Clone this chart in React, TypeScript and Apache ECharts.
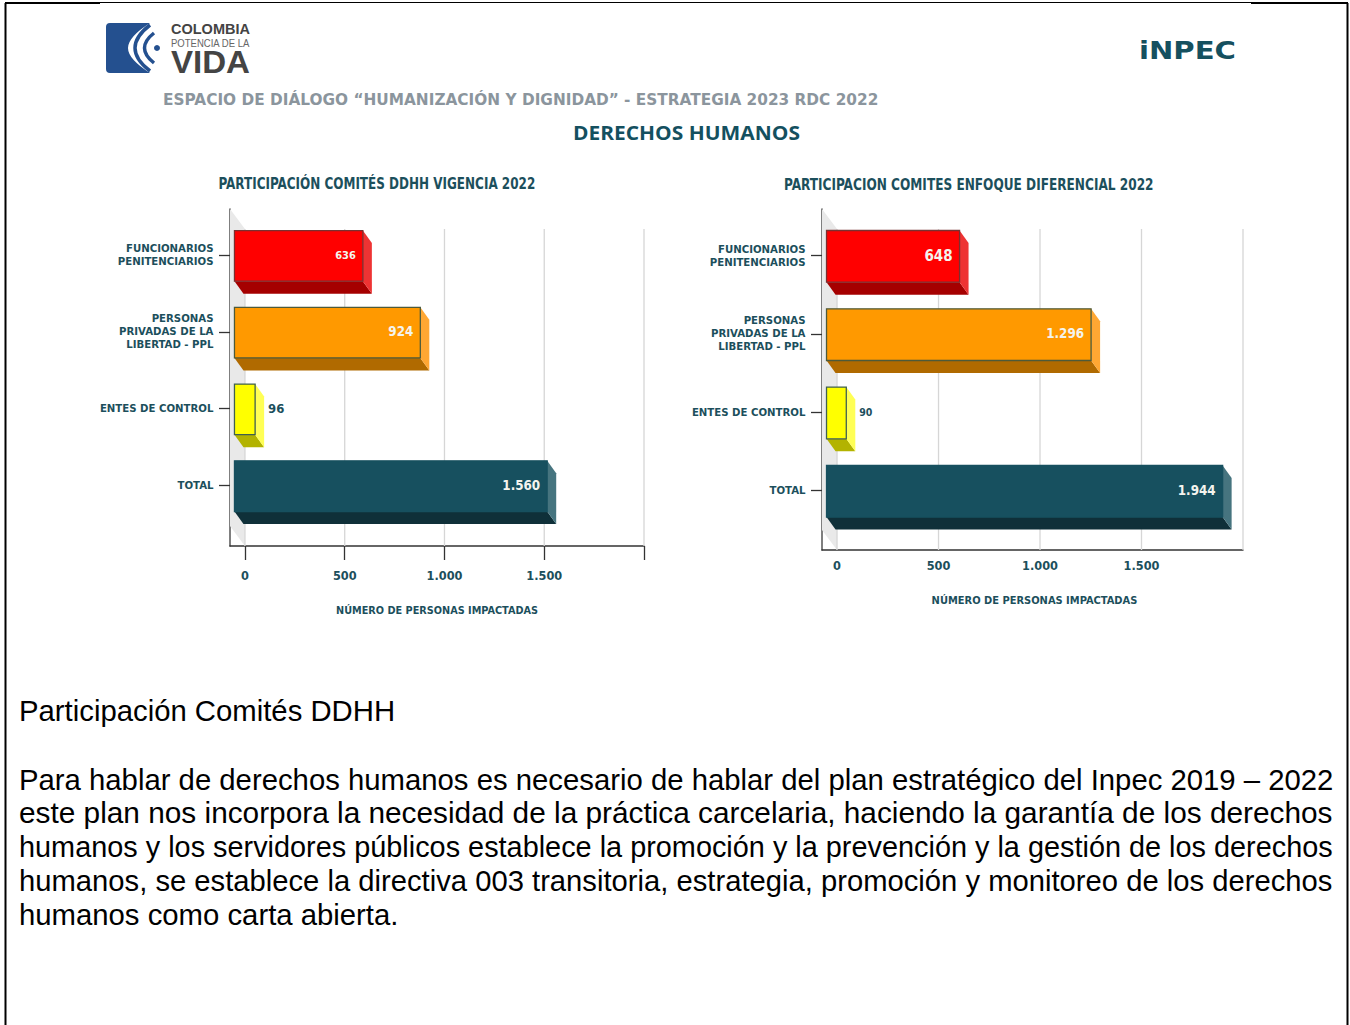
import React, { useEffect, useRef } from "react";
import * as echarts from "echarts";

const CATEGORIES = ["FUNCIONARIOS\nPENITENCIARIOS", "PERSONAS\nPRIVADAS DE LA\nLIBERTAD - PPL", "ENTES DE CONTROL", "TOTAL"];
const VALUES_2022 = [636, 924, 96, 1560];
const VALUES_ENFOQUE = [648, 1296, 90, 1944];
const CATEGORY_INDEXES = [0, 1, 2, 3];
const X_TICKS = [0, 500, 1000, 1500, 2000];
const X_LABELS = [0, 500, 1000, 1500];
const TITLE_LEFT = "PARTICIPACIÓN COMITÉS DDHH VIGENCIA 2022";
const TITLE_RIGHT = "PARTICIPACION COMITES ENFOQUE DIFERENCIAL 2022";
const AXIS_NAME = "NÚMERO DE PERSONAS IMPACTADAS";
const HEADER = "ESPACIO DE DIÁLOGO “HUMANIZACIÓN Y DIGNIDAD” - ESTRATEGIA 2023 RDC 2022";
const SECTION = "DERECHOS HUMANOS";
const BODY_TITLE = "Participación Comités DDHH";
const BODY_LINES = [
  "Para hablar de derechos humanos es necesario de hablar del plan estratégico del Inpec 2019 – 2022",
  "este plan nos incorpora la necesidad de la práctica carcelaria, haciendo la garantía de los derechos",
  "humanos y los servidores públicos establece la promoción y la prevención y la gestión de los derechos",
  "humanos, se establece la directiva 003 transitoria, estrategia, promoción y monitoreo de los derechos",
  "humanos como carta abierta.",
];

const TEAL = "#1c4f5c";
const COND = "'DejaVu Sans Condensed', 'DejaVu Sans', sans-serif";
const FACES = ["#ff0000", "#ff9900", "#ffff00", "#17505f"];
const SIDES = ["#ee3333", "#ffa733", "#ffff55", "#46747f"];
const BOTTOMS = ["#a50000", "#b06a00", "#b3b300", "#0f3039"];
const EDGES = ["#7a3030", "#4d5a3a", "#3f6050", "#17505f"];

const fmt = (v: number) => String(v).replace(/\B(?=(\d{3})+$)/g, ".");

const measure = (text: string, font: string) => {
  const ctx = document.createElement("canvas").getContext("2d")!;
  ctx.font = font;
  return ctx.measureText(text).width;
};

const fitText = (text: string, font: string, x: number, y: number, width: number, fill: string, extra: any = {}) => ({
  type: "text",
  x,
  y,
  scaleX: width / measure(text, font),
  silent: true,
  style: { text, font, fill, align: "left", verticalAlign: "middle", ...extra },
});

const barRenderer = (labelSizes: number[], outsideLabelGap: number) => (params: any, api: any) => {
  const value = api.value(0);
  const idx = api.value(1);
  const back = api.coord([value, idx]);
  const zero = api.coord([0, idx]);
  const h = api.size([0, 1])[1] * 0.66;
  const dx = 9;
  const dy = 12.5;
  const fl = zero[0] - 10.5;
  const fr = back[0] - dx;
  const top = back[1] + 0.8 - h / 2;
  const bot = back[1] + 0.8 + h / 2;
  const isOutside = fr - fl < 60;
  const size = labelSizes[idx];
  return {
    type: "group",
    children: [
      {
        type: "polygon",
        shape: { points: [[fl, bot], [fr, bot], [fr + dx, bot + dy], [fl + dx, bot + dy]] },
        style: { fill: BOTTOMS[idx] },
      },
      {
        type: "polygon",
        shape: { points: [[fr, top], [fr + dx, top + dy], [fr + dx, bot + dy], [fr, bot]] },
        style: { fill: SIDES[idx] },
      },
      {
        type: "rect",
        shape: { x: fl, y: top, width: fr - fl, height: h },
        style: { fill: FACES[idx], stroke: EDGES[idx], lineWidth: 1.3 },
      },
      {
        type: "text",
        style: {
          x: isOutside ? back[0] + outsideLabelGap : fr - 7,
          y: back[1],
          text: fmt(value),
          align: isOutside ? "left" : "right",
          verticalAlign: "middle",
          fill: isOutside ? TEAL : "#f4f4ee",
          font: `bold ${size}px ${COND}`,
        },
      },
    ],
  };
};

const wallRenderer = (params: any, api: any) => {
  const cs = params.coordSys;
  const x0 = api.coord([0, 0])[0];
  const dy = 20;
  const bottom = cs.y + cs.height;
  const xv = api.coord([api.value(0), 0])[0];
  const children: any[] = [
    { type: "line", shape: { x1: xv, y1: cs.y + dy, x2: xv, y2: bottom }, style: { stroke: "#d6d6d6", lineWidth: 1.3 } },
  ];
  if (api.value(0) === 0) {
    children.unshift({
      type: "polygon",
      shape: { points: [[cs.x, cs.y], [x0, cs.y + dy], [x0, bottom], [cs.x, bottom - dy]] },
      style: { fill: "#e9e9e9" },
    });
  }
  return { type: "group", children };
};

const makeAxes = (gridIndex: number, xMin: number, yMin: number, yMax: number, tickLen: number, labelMargin: number, nameGap: number, nameSize: number, namePadLeft: number) => ({
  x: {
    type: "value",
    gridIndex,
    min: xMin,
    max: 2000,
    name: AXIS_NAME,
    nameLocation: "middle",
    nameGap,
    nameTextStyle: { color: TEAL, fontFamily: COND, fontWeight: "bold", fontSize: nameSize, padding: [0, 0, 0, namePadLeft] },
    axisLine: { show: true, onZero: false, lineStyle: { color: "#333", width: 1.5 } },
    axisTick: { show: tickLen > 0, length: tickLen, customValues: X_TICKS, lineStyle: { color: "#333", width: 1.3 } },
    axisLabel: {
      customValues: X_LABELS,
      margin: labelMargin,
      formatter: (v: number) => fmt(v),
      color: TEAL,
      fontFamily: COND,
      fontWeight: "bold",
      fontSize: 12.6,
    },
    splitLine: { show: false },
  },
  y: {
    type: "value",
    gridIndex,
    inverse: true,
    min: yMin,
    max: yMax,
    axisLine: { show: true, onZero: false, lineStyle: { color: "#555", width: 1.5 } },
    axisTick: { show: true, length: 11, customValues: CATEGORY_INDEXES, lineStyle: { color: "#333", width: 1.3 } },
    axisLabel: {
      customValues: CATEGORY_INDEXES,
      margin: 16.5,
      formatter: (v: number) => CATEGORIES[v] ?? "",
      color: TEAL,
      fontFamily: COND,
      fontWeight: "bold",
      fontSize: 11.3,
      lineHeight: 13,
      align: "right",
    },
    splitLine: { show: false },
  },
});

export default function App() {
  const ref = useRef<HTMLDivElement>(null);
  useEffect(() => {
    const chart = echarts.init(ref.current!, undefined, { renderer: "svg" });
    const a = makeAxes(0, -75, -0.6, 3.79, 14, 23, 59, 10.8, 0);
    const b = makeAxes(1, -74, -0.594, 3.76, 0, 9, 45, 11, 4);
    const bodyFont = "29.3px 'Liberation Sans', Arial, sans-serif";
    const titleFont = `bold 15px ${COND}`;
    const frame = (x1: number, y1: number, x2: number, y2: number, w: number) => ({
      type: "line",
      silent: true,
      shape: { x1, y1, x2, y2 },
      style: { stroke: "#000", lineWidth: w },
    });
    const arc = (x1: number, y1: number, cx: number, cy: number, x2: number, y2: number, w: number) => ({
      type: "bezierCurve",
      silent: true,
      shape: { x1, y1, cpx1: cx, cpy1: cy, x2, y2 },
      style: { stroke: "#24508f", lineWidth: w, fill: "none" },
    });
    echarts.graphic.registerShape(
      "logoBody",
      echarts.graphic.extendPath("M110 23 L150 23 Q128 37 128 48 Q128 59 150 73 L110 73 Q106 73 106 69 L106 27 Q106 23 110 23 Z", {})
    );
    chart.setOption({
      animation: false,
      backgroundColor: "#fff",
      grid: [
        { left: 230, top: 209, width: 414, height: 337 },
        { left: 822, top: 209, width: 421, height: 341 },
      ],
      xAxis: [a.x, b.x],
      yAxis: [a.y, b.y],
      series: [
        { type: "custom", xAxisIndex: 0, yAxisIndex: 0, z: 1, silent: true, clip: false, renderItem: wallRenderer, encode: { x: 0 }, data: X_TICKS.map((v) => [v]) },
        { type: "custom", xAxisIndex: 1, yAxisIndex: 1, z: 1, silent: true, clip: false, renderItem: wallRenderer, encode: { x: 0 }, data: X_TICKS.map((v) => [v]) },
        { type: "custom", name: TITLE_LEFT, xAxisIndex: 0, yAxisIndex: 0, z: 3, clip: false, renderItem: barRenderer([11, 13.3, 13, 13.3], 4), encode: { x: 0, y: 1 }, data: VALUES_2022.map((v, i) => [v, CATEGORY_INDEXES[i]]) },
        { type: "custom", name: TITLE_RIGHT, xAxisIndex: 1, yAxisIndex: 1, z: 3, clip: false, renderItem: barRenderer([15, 13.3, 10.5, 13.3], 4), encode: { x: 0, y: 1 }, data: VALUES_ENFOQUE.map((v, i) => [v, CATEGORY_INDEXES[i]]) },
      ],
      graphic: [
        frame(5.5, 3, 5.5, 1025, 2),
        frame(1347.5, 3, 1347.5, 1025, 2),
        frame(5, 3, 100, 3, 2),
        frame(100, 2.5, 1251, 2.5, 1),
        frame(1251, 3, 1348, 3, 2),
        { type: "logoBody", silent: true, style: { fill: "#24508f" } },
        arc(150, 25, 120, 48, 150, 71, 3.5),
        arc(154, 33, 135, 48, 154, 63, 3.5),
        { type: "circle", silent: true, shape: { cx: 157, cy: 48, r: 3 }, style: { fill: "#24508f" } },
        fitText("COLOMBIA", "bold 15px 'Liberation Sans'", 171, 29, 79, "#444"),
        fitText("POTENCIA DE LA", "10px 'Liberation Sans'", 171, 43, 79, "#666"),
        fitText("VIDA", "bold 31px 'Liberation Sans'", 171, 62, 79, "#444"),
        fitText("iNPEC", "bold 25px 'DejaVu Sans'", 1139, 50, 97, "#15505f"),
        fitText(HEADER, "bold 15px 'DejaVu Sans'", 163, 100.2, 716, "#8b959d"),
        fitText(SECTION, "bold 20px 'Open Sans'", 573, 132.5, 227, "#14505f"),
        fitText(TITLE_LEFT, titleFont, 218.5, 183.5, 317, TEAL),
        fitText(TITLE_RIGHT, titleFont, 784, 184.5, 370, TEAL),
        { type: "text", silent: true, x: 19, y: 710.5, style: { text: BODY_TITLE, font: bodyFont, fill: "#000", verticalAlign: "middle" } },
        ...BODY_LINES.map((line, i) =>
          i < BODY_LINES.length - 1
            ? fitText(line, bodyFont, 19, 779.2 + i * 33.8, 1314, "#000")
            : { type: "text", silent: true, x: 19, y: 779.2 + i * 33.8, style: { text: line, font: bodyFont, fill: "#000", verticalAlign: "middle" } }
        ),
      ],
    });
    return () => chart.dispose();
  }, []);
  return <div ref={ref} style={{ position: "absolute", left: 0, top: 0, width: 1350, height: 1025 }} />;
}
